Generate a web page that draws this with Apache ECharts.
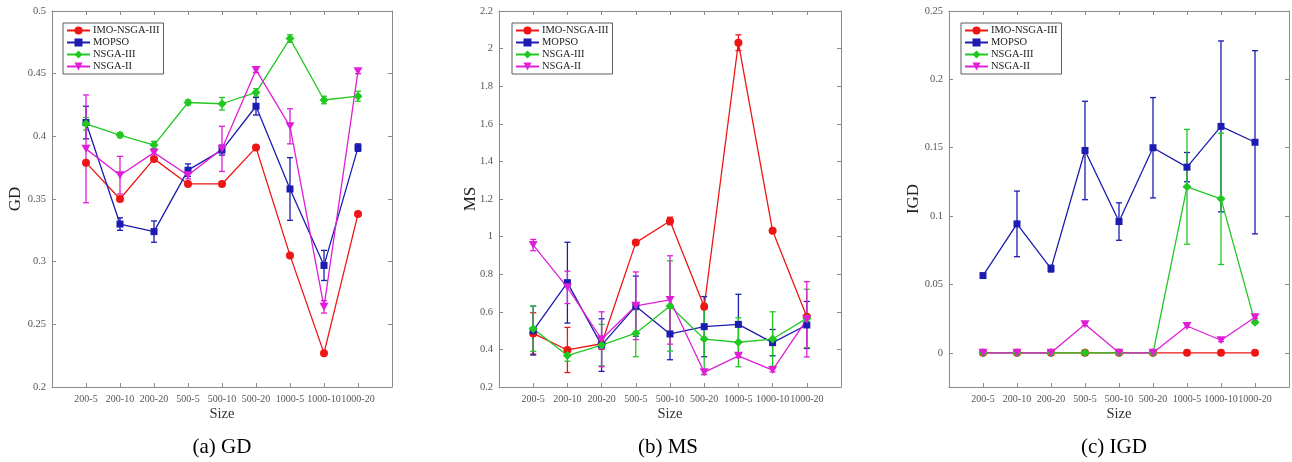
<!DOCTYPE html>
<html>
<head>
<meta charset="utf-8">
<script src="https://cdn.jsdelivr.net/npm/echarts@6/dist/echarts.min.js"></script>
<style>
html, body { margin: 0; padding: 0; background: #fff; }
#main { width: 1292px; height: 462px; }
</style>
</head>
<body>
<div id="main"></div>
<script>
// ---------------- data ----------------
var sizes = ['200-5', '200-10', '200-20', '500-5', '500-10', '500-20', '1000-5', '1000-10', '1000-20'];
var algos = ['IMO-NSGA-III', 'MOPSO', 'NSGA-III', 'NSGA-II'];

// GD
var gdImo      = [0.379, 0.350, 0.382, 0.362, 0.362, 0.391, 0.305, 0.227, 0.338];
var gdImoErr   = [0.001, 0.001, 0.001, 0.001, 0.001, 0.001, 0.001, 0.001, 0.001];
var gdMopso    = [0.411, 0.330, 0.324, 0.373, 0.389, 0.424, 0.358, 0.297, 0.391];
var gdMopsoErr = [0.013, 0.005, 0.0085, 0.005, 0.004, 0.007, 0.025, 0.012, 0.003];
var gdNsga3    = [0.410, 0.401, 0.393, 0.427, 0.426, 0.435, 0.478, 0.429, 0.432];
var gdNsga3Err = [0.005, 0.002, 0.003, 0.002, 0.005, 0.003, 0.003, 0.003, 0.004];
var gdNsga2    = [0.390, 0.369, 0.387, 0.369, 0.390, 0.453, 0.408, 0.264, 0.452];
var gdNsga2Err = [0.043, 0.015, 0.003, 0.003, 0.018, 0.002, 0.014, 0.005, 0.002];

// MS
var msImo      = [0.485, 0.397, 0.430, 0.968, 1.083, 0.627, 2.031, 1.031, 0.574];
var msImoErr   = [0.11, 0.12, 0.03, 0.01, 0.02, 0.01, 0.042, 0.005, 0.01];
var msMopso    = [0.500, 0.755, 0.423, 0.630, 0.482, 0.521, 0.533, 0.436, 0.530];
var msMopsoErr = [0.13, 0.215, 0.14, 0.16, 0.137, 0.16, 0.16, 0.07, 0.125];
var msNsga3    = [0.510, 0.367, 0.423, 0.486, 0.631, 0.455, 0.438, 0.455, 0.565];
var msNsga3Err = [0.12, 0.03, 0.11, 0.125, 0.24, 0.19, 0.13, 0.145, 0.155];
var msNsga2    = [0.955, 0.730, 0.454, 0.632, 0.663, 0.278, 0.366, 0.290, 0.560];
var msNsga2Err = [0.03, 0.086, 0.146, 0.18, 0.235, 0.01, 0.01, 0.01, 0.2];

// IGD
var igdImo      = [0, 0, 0, 0, 0, 0, 0, 0, 0];
var igdImoErr   = [0, 0, 0, 0, 0, 0, 0, 0, 0];
var igdMopso    = [0.0565, 0.0943, 0.0616, 0.148, 0.096, 0.150, 0.1358, 0.1656, 0.154];
var igdMopsoErr = [0.001, 0.024, 0.0025, 0.036, 0.0137, 0.0367, 0.0107, 0.0625, 0.067];
var igdNsga3    = [0, 0, 0, 0, 0, 0, 0.1214, 0.1126, 0.0223];
var igdNsga3Err = [0, 0, 0, 0, 0, 0, 0.042, 0.048, 0.001];
var igdNsga2    = [0, 0, 0, 0.0209, 0, 0, 0.0196, 0.0092, 0.026];
var igdNsga2Err = [0, 0, 0, 0.001, 0, 0, 0.001, 0.001, 0.001];

// tick values
var xTicks   = [1, 2, 3, 4, 5, 6, 7, 8, 9];
var gdTicks  = [0.2, 0.25, 0.3, 0.35, 0.4, 0.45, 0.5];
var msTicks  = [0.2, 0.4, 0.6, 0.8, 1, 1.2, 1.4, 1.6, 1.8, 2, 2.2];
var igdTicks = [0, 0.05, 0.1, 0.15, 0.2, 0.25];

// ---------------- style ----------------
var FONT = '"Liberation Serif", "Times New Roman", serif';
var colors  = ['#ee1515', '#1c1cb0', '#22c822', '#e01ed8'];
var symbols = ['circle', 'rect', 'diamond', 'path://M0,0 L10,0 L5,9 Z'];
var symSize = [8, 7, 9, [9, 8]];
var boxColor = '#8a8a8a';

var panels = [
  { left: 52,  width: 340, min: 0.2,    max: 0.5,  ticks: gdTicks,
    vals: [gdImo, gdMopso, gdNsga3, gdNsga2], errs: [gdImoErr, gdMopsoErr, gdNsga3Err, gdNsga2Err],
    yname: 'GD', nameX: 15.5, caption: '(a) GD', capX: 222, legendX: 63 },
  { left: 499, width: 342, min: 0.2,    max: 2.2,  ticks: msTicks,
    vals: [msImo, msMopso, msNsga3, msNsga2], errs: [msImoErr, msMopsoErr, msNsga3Err, msNsga2Err],
    yname: 'MS', nameX: 471, caption: '(b) MS', capX: 668, legendX: 512 },
  { left: 949, width: 340, min: -0.025, max: 0.25, ticks: igdTicks,
    vals: [igdImo, igdMopso, igdNsga3, igdNsga2], errs: [igdImoErr, igdMopsoErr, igdNsga3Err, igdNsga2Err],
    yname: 'IGD', nameX: 914, caption: '(c) IGD', capX: 1114, legendX: 961 }
];

var grid = [], xAxis = [], yAxis = [], series = [], legend = [], graphic = [];

panels.forEach(function (p, k) {
  grid.push({ left: p.left, top: 11, width: p.width, height: 376 });

  ['bottom', 'top'].forEach(function (pos) {
    xAxis.push({
      type: 'value', gridIndex: k, min: 0, max: 10, position: pos,
      axisLine: { show: true, onZero: false, lineStyle: { color: boxColor, width: 1 } },
      axisTick: { show: true, inside: true, length: 4, customValues: xTicks, lineStyle: { color: boxColor } },
      axisLabel: {
        show: pos === 'bottom', customValues: xTicks, margin: 7,
        fontFamily: FONT, fontSize: 10, color: '#555',
        formatter: function (v) { return sizes[Math.round(v) - 1] || ''; }
      },
      splitLine: { show: false }
    });
  });
  ['left', 'right'].forEach(function (pos) {
    yAxis.push({
      type: 'value', gridIndex: k, min: p.min, max: p.max, position: pos,
      axisLine: { show: true, onZero: false, lineStyle: { color: boxColor, width: 1 } },
      axisTick: { show: true, inside: true, length: 4, customValues: p.ticks, lineStyle: { color: boxColor } },
      axisLabel: { show: pos === 'left', customValues: p.ticks, margin: 6, fontFamily: FONT, fontSize: 10.5, color: '#555' },
      splitLine: { show: false }
    });
  });

  algos.forEach(function (name, i) {
    var c = colors[i];
    var vals = p.vals[i], errs = p.errs[i];
    series.push({
      type: 'custom', name: name + ' err', xAxisIndex: 2 * k, yAxisIndex: 2 * k,
      silent: true, animation: false,
      data: vals.map(function (v, j) { return [j + 1, v - errs[j], v + errs[j]]; }),
      encode: { x: 0, y: [1, 2] },
      renderItem: function (params, api) {
        var x = api.value(0);
        var lo = api.coord([x, api.value(1)]);
        var hi = api.coord([x, api.value(2)]);
        var w = 3;
        var st = { stroke: c, lineWidth: 1.3 };
        return { type: 'group', children: [
          { type: 'line', shape: { x1: lo[0], y1: lo[1], x2: hi[0], y2: hi[1] }, style: st },
          { type: 'line', shape: { x1: lo[0] - w, y1: lo[1], x2: lo[0] + w, y2: lo[1] }, style: st },
          { type: 'line', shape: { x1: hi[0] - w, y1: hi[1], x2: hi[0] + w, y2: hi[1] }, style: st }
        ] };
      }
    });
    series.push({
      type: 'line', name: name, xAxisIndex: 2 * k, yAxisIndex: 2 * k,
      animation: false,
      data: vals.map(function (v, j) { return [j + 1, v]; }),
      symbol: symbols[i], symbolSize: symSize[i], showAllSymbol: true,
      lineStyle: { color: c, width: 1.3 },
      itemStyle: { color: c }
    });
  });

  legend.push({
    data: algos, orient: 'vertical', left: p.legendX, top: 23,
    itemWidth: 23, itemHeight: 10, itemGap: 1, padding: [2, 4, 2, 3],
    borderColor: '#333', borderWidth: 0.8, backgroundColor: '#fff',
    selectedMode: false,
    textStyle: { fontFamily: FONT, fontSize: 10.5, color: '#222', padding: [0, 0, 0, -2] }
  });

  graphic.push({
    type: 'text', x: p.nameX, y: 199, rotation: Math.PI / 2,
    style: { text: p.yname, font: '17px ' + FONT, fill: '#222', textAlign: 'center', textVerticalAlign: 'middle' }
  });
  graphic.push({
    type: 'text', x: p.left + p.width / 2, y: 414,
    style: { text: 'Size', font: '14.5px ' + FONT, fill: '#333', textAlign: 'center', textVerticalAlign: 'middle' }
  });
  graphic.push({
    type: 'text', x: p.capX, y: 447,
    style: { text: p.caption, font: '21px ' + FONT, fill: '#000', textAlign: 'center', textVerticalAlign: 'middle' }
  });
});

var option = {
  backgroundColor: '#fff',
  animation: false,
  grid: grid,
  xAxis: xAxis,
  yAxis: yAxis,
  legend: legend,
  series: series,
  graphic: graphic
};

echarts.init(document.getElementById('main'), null, { renderer: 'canvas' }).setOption(option);
</script>
</body>
</html>
